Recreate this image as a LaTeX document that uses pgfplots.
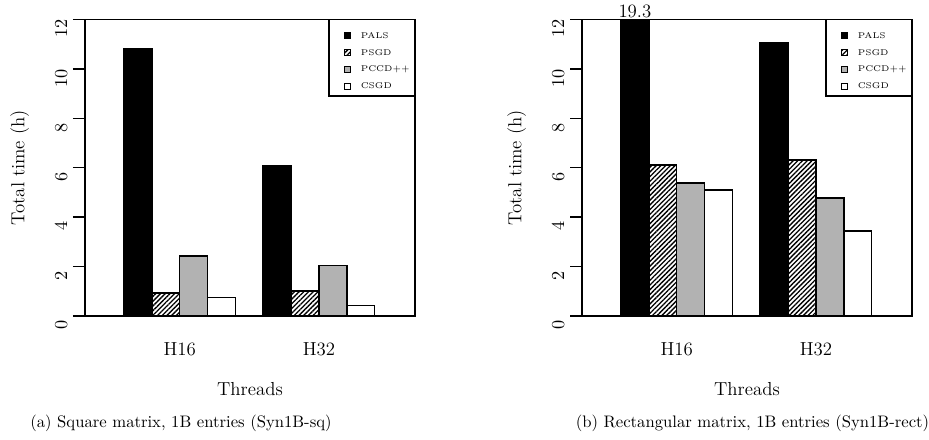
\documentclass[border=0pt]{standalone}
\usepackage{pgfplots}
\pgfplotsset{compat=1.18}
\usetikzlibrary{patterns.meta}

\tikzset{legframe/.style={draw=black, fill=white, line width=1.1pt}}

% legend square, shifted right inside its cell; the bare points fix the cell size
\pgfplotsset{
  sqleg/.style={legend image code/.code={
      \path (0pt,-3.45pt) (8.8pt,6.65pt);
      \draw[##1, line width=0.8pt] (5.2pt,-2.0pt) rectangle (8.8pt,1.6pt);}},
  rbars/.style={
    scale only axis, width=198pt, height=177.9pt,
    xmin=0, xmax=11.85, ymin=0, ymax=12,
    clip mode=individual,
    ybar=0pt, bar width=1,
    xtick={3.4,8.4}, xticklabels={H16,H32},
    major x tick style={draw=none},
    xticklabel style={anchor=center, yshift=-13pt},
    ytick={0,2,...,12},
    ytick pos=left, tick align=outside, major tick length=7.2pt,
    major y tick style={line width=0.9pt, black},
    yticklabel style={rotate=90, anchor=south, xshift=-5.5pt},
    tick label style={font=\fontsize{11.3}{13.5}\selectfont},
    label style={font=\fontsize{11.3}{13.5}\selectfont},
    axis line style={line width=1.1pt},
    xlabel={Threads}, ylabel={Total time (h)},
    xlabel style={at={(axis description cs:0.5,-0.246)}, anchor=center},
    ylabel style={at={(axis description cs:-0.198,0.5)}, anchor=center},
    legend cell align=left,
    legend style={at={(1,1)}, anchor=north east, draw=none, fill=none,
      line width=1.1pt,
      inner xsep=3.6pt, inner ysep=1.95pt, row sep=-0.9pt, column sep=5.9pt,
      nodes={font=\fontsize{5}{6}\selectfont, inner sep=0pt,
        text height=3.4pt, text depth=0pt}},
  },
  pals/.style={draw=black, line width=0.9pt, fill=black, sqleg},
  psgd/.style={draw=black, line width=0.9pt,
    pattern={Lines[angle=45, distance=2pt, line width=0.8pt]}, sqleg},
  pccd/.style={draw=black, line width=0.9pt, fill=black!30, sqleg},
  csgd/.style={draw=black, line width=0.9pt, fill=white, sqleg},
}

\begin{document}
\begin{tikzpicture}
\path[use as bounding box] (0pt,0pt) rectangle (557.4pt,264pt);

% (a) square matrix
\begin{axis}[rbars, at={(51pt,74.4pt)}, anchor=south west]
\addplot[pals] coordinates {(3.4,10.83) (8.4,6.07)};
\addplot[psgd] coordinates {(3.4,0.94) (8.4,1.01)};
\addplot[pccd] coordinates {(3.4,2.43) (8.4,2.04)};
\addplot[csgd] coordinates {(3.4,0.74) (8.4,0.42)};
\legend{\makebox[28.4pt][l]{PALS},\makebox[28.4pt][l]{PSGD},
  \makebox[28.4pt][l]{PCCD++},\makebox[28.4pt][l]{CSGD}}
\draw[legframe] (rel axis cs:0.7394,0.742) rectangle (rel axis cs:1,1);
\end{axis}

% (b) rectangular matrix
\begin{axis}[rbars, at={(349.2pt,74.4pt)}, anchor=south west]
\addplot[pals] coordinates {(3.4,19.3) (8.4,11.05)};
\addplot[psgd] coordinates {(3.4,6.11) (8.4,6.31)};
\addplot[pccd] coordinates {(3.4,5.38) (8.4,4.78)};
\addplot[csgd] coordinates {(3.4,5.09) (8.4,3.44)};
\legend{\makebox[28.4pt][l]{PALS},\makebox[28.4pt][l]{PSGD},
  \makebox[28.4pt][l]{PCCD++},\makebox[28.4pt][l]{CSGD}}
\draw[legframe] (rel axis cs:0.7394,0.742) rectangle (rel axis cs:1,1);
\node[above, inner sep=1pt, font=\fontsize{11.3}{13.5}\selectfont]
  at (axis cs:1.9,12) {19.3};
\end{axis}

\node at (108.6pt,10.2pt) {(a) Square matrix, 1B entries (Syn1B-sq)};
\node at (451.5pt,10.2pt) {(b) Rectangular matrix, 1B entries (Syn1B-rect)};
\end{tikzpicture}
\end{document}
